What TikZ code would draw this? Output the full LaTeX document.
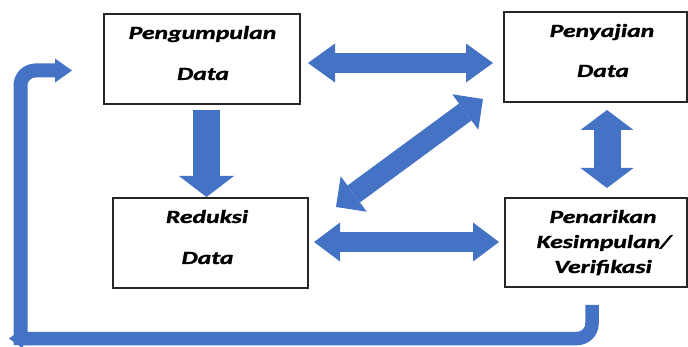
\documentclass[tikz,border=0pt]{standalone}
\usepackage{fontspec}
\setmainfont{Carlito}[BoldItalicFeatures={FakeBold=1.2}]
\usepackage{graphicx}
\usetikzlibrary{arrows.meta}
\definecolor{officeblue}{HTML}{4472C4}
\newcommand\wtext[1]{\scalebox{1.38}[1]{#1}}
\tikzset{
  box/.style={draw=black!85, line width=1.1pt, inner sep=0pt},
  lbl/.style={anchor=base, inner sep=0pt, text=black,
    font=\fontsize{18.6}{20}\selectfont\bfseries\itshape},
  blockarrow/.style={draw=officeblue, line width=#1},
}
\begin{document}
\begin{tikzpicture}[x=1pt,y=-1pt]
\useasboundingbox (0,0) rectangle (688,347);
% boxes
\node[box, minimum width=196pt, minimum height=90pt] (peng) at (202,59) {};
\node[box, minimum width=183pt, minimum height=90pt] (peny) at (595.5,57) {};
\node[box, minimum width=195pt, minimum height=90pt] (redu) at (210.5,243) {};
\node[box, minimum width=182pt, minimum height=89pt] (pena) at (596,242.5) {};
% labels
\node[lbl] (pengA) at (202.5,39) {\wtext{Pengumpulan}};
\node[lbl] (pengB) at (203,80) {\wtext{Data}};
\node[lbl] (penyA) at (602,37) {\wtext{Penyajian}};
\node[lbl] (penyB) at (603,77) {\wtext{Data}};
\node[lbl] (reduA) at (207,223) {\wtext{Reduksi}};
\node[lbl] (reduB) at (207.5,264) {\wtext{Data}};
\node[lbl] (penaA) at (603,223) {\wtext{Penarikan}};
\node[lbl] (penaB) at (604,248) {\wtext{Kesimpulan/}};
\node[lbl] (penaC) at (603,273) {\wtext{Verifikasi}};
% arrow end points
\coordinate (t1) at (308,63);   \coordinate (t2) at (493,63);
\coordinate (b1) at (314,242);  \coordinate (b2) at (499,242);
\coordinate (v1) at (607,110);  \coordinate (v2) at (607,188);
\coordinate (d1) at (206.5,110);\coordinate (d2) at (206.5,197);
\coordinate (g1) at (336,207);  \coordinate (g2) at (483,99);
\coordinate (l1) at (592,305);  \coordinate (l2) at (592,338.5);
\coordinate (l3) at (9,338.5);
\coordinate (m1) at (20.5,345); \coordinate (m2) at (20.5,70.5);
\coordinate (m3) at (72,70.5);
% block arrows
\draw[blockarrow=19.5pt,
  {Triangle[length=27pt,width=39pt,line width=0pt]}-{Triangle[length=27pt,width=39pt,line width=0pt]}]
  (t1) -- (t2);
\draw[blockarrow=20pt,
  {Triangle[length=26pt,width=39pt,line width=0pt]}-{Triangle[length=26pt,width=39pt,line width=0pt]}]
  (b1) -- (b2);
\draw[blockarrow=27pt,
  {Triangle[length=20pt,width=53pt,line width=0pt]}-{Triangle[length=20pt,width=53pt,line width=0pt]}]
  (v1) -- (v2);
\draw[blockarrow=27pt, -{Triangle[length=21pt,width=55pt,line width=0pt]}]
  (d1) -- (d2);
\draw[blockarrow=21pt,
  {Triangle[length=22pt,width=44pt,line width=0pt]}-{Triangle[length=22pt,width=44pt,line width=0pt]}]
  (g1) -- (g2);
% feedback loop
\draw[blockarrow=14pt, rounded corners=15pt, -{Triangle[length=17pt,width=24pt,line width=0pt]}]
  (m1) -- (m2) -- (m3);
\draw[blockarrow=13.5pt, rounded corners=15pt, -{Triangle[length=14pt,width=20pt,line width=0pt]}]
  (l1) -- (l2) -- (l3);
\end{tikzpicture}
\end{document}
